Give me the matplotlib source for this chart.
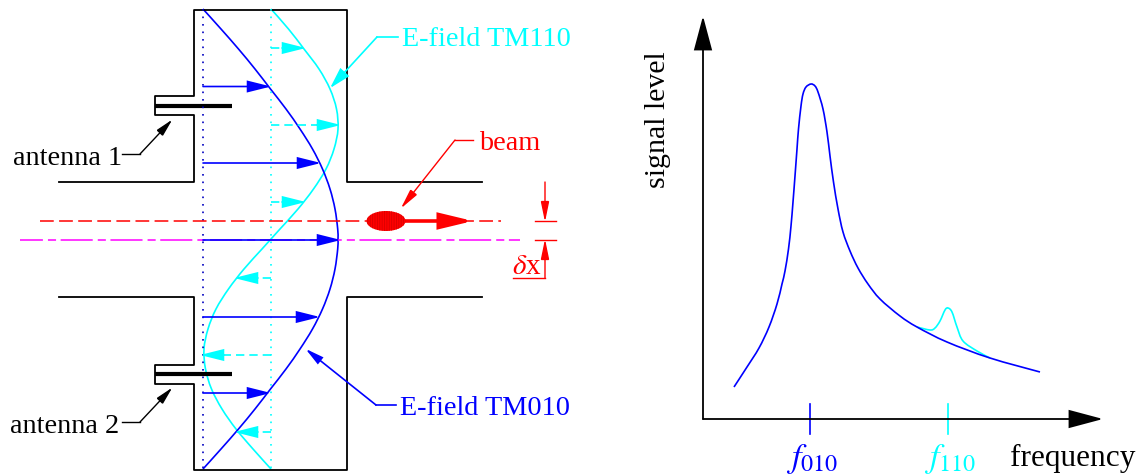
import math
import matplotlib
matplotlib.use("Agg")
import matplotlib.pyplot as plt
from matplotlib.patches import Ellipse, FancyArrowPatch, PathPatch
from matplotlib.path import Path

plt.rcParams['font.family'] = ['Liberation Serif', 'DejaVu Serif']
plt.rcParams['mathtext.fontset'] = 'stix'
plt.rcParams['hatch.linewidth'] = 0.6

BLUE = '#0000ff'
CYAN = '#00ffff'
RED = '#ff0000'
MAGENTA = '#ff00ff'

field_y = [10, 30, 50, 70, 90, 110, 130, 150, 170, 190, 210, 230, 240, 250, 270, 290,
           310, 330, 350, 370, 390, 410, 430, 450, 470]
tm010_x = [203, 221, 238.5, 255, 270.5, 286, 300, 312.5, 322.5, 330, 335, 337.7, 338, 337.7, 335, 330,
           322.5, 312.5, 300, 286, 270.5, 255, 238.5, 221, 203]
tm110_x = [271, 288.5, 304, 319, 330, 336.5, 338, 334, 326, 313.5, 298, 280, 271, 262, 244, 228.5,
           216, 208, 204, 205.5, 211.5, 222, 236, 253, 271]

# field arrows: (height, tip)
tm010_arrows = [(87.5, 268), (164, 318), (241, 338), (318, 317), (394, 268)]
tm110_arrows = [(49, 303), (126, 338), (203, 303), (279, 237), (356, 203), (433, 237)]

# spectrum
main_x = [734, 747, 759, 769, 777, 782, 785, 788.5, 791, 793, 795, 797, 798.5, 801, 803, 806,
          811, 815, 818, 823, 827, 830, 833.5, 838, 843, 850, 858, 868, 880, 900, 917, 947,
          990, 1040]
main_y = [388, 368, 349, 328, 305, 285, 272, 250, 227, 203, 177, 150, 130, 107, 95, 88,
          85, 87, 93, 110, 133, 157, 183, 210, 233, 252, 269, 285, 300, 317, 328, 343,
          359, 373]
bump_x = [917, 930, 935, 940, 945, 948, 952, 957, 963, 977, 990]
bump_y = [328, 331, 329, 322, 311, 309, 313, 328, 342, 352, 359]

# cavity outline
upper_x = [59, 194, 194, 155, 155, 194, 194, 347, 347, 482]
upper_y = [183, 183, 116, 116, 97, 97, 10.5, 10.5, 183, 183]
lower_x = [59, 194, 194, 155, 155, 194, 194, 347, 347, 482]
lower_y = [298, 298, 366, 366, 385, 385, 471, 471, 298, 298]


def smooth(xs, ys, color, lw=1.2):
    # catmull-rom through the read points, as bezier segments
    pts = list(zip(xs, ys))
    verts = [pts[0]]
    codes = [Path.MOVETO]
    for i in range(len(pts) - 1):
        p0 = pts[max(i - 1, 0)]
        p1 = pts[i]
        p2 = pts[i + 1]
        p3 = pts[min(i + 2, len(pts) - 1)]
        c1 = (p1[0] + (p2[0] - p0[0]) / 6, p1[1] + (p2[1] - p0[1]) / 6)
        c2 = (p2[0] - (p3[0] - p1[0]) / 6, p2[1] - (p3[1] - p1[1]) / 6)
        verts += [c1, c2, p2]
        codes += [Path.CURVE4] * 3
    ax.add_patch(PathPatch(Path(verts, codes), fill=False, edgecolor=color, lw=lw))


def arrow(x0, y0, x1, y1, color, lw=1.2, hl=20, hw=5, extend=3):
    # head sizes are in pixels, same as the rest of the drawing
    # matplotlib pulls the tip back a bit so push it out again
    px = 72 / 100
    d = math.hypot(x1 - x0, y1 - y0)
    x1 = x1 + (x1 - x0) / d * extend
    y1 = y1 + (y1 - y0) / d * extend
    style = f"-|>,head_length={hl * px},head_width={hw * px}"
    ax.add_patch(FancyArrowPatch((x0, y0), (x1, y1), arrowstyle=style, color=color, lw=lw,
                                 shrinkA=0, shrinkB=0, mutation_scale=1,
                                 joinstyle='miter', zorder=4))


fig = plt.figure(figsize=(11.43, 4.77), dpi=100)
ax = fig.add_axes([0, 0, 1, 1])
ax.set_xlim(0, 1143)
ax.set_ylim(477, 0)
ax.axis('off')

# cavity
ax.plot(upper_x, upper_y, color='black', lw=1.3)
ax.plot(lower_x, lower_y, color='black', lw=1.3)
ax.plot([155, 232], [106.5, 106.5], color='black', lw=3, solid_capstyle='butt')
ax.plot([155, 232], [375, 375], color='black', lw=3, solid_capstyle='butt')

# axes lines of the fields
ax.plot([203, 203], [10, 470], color='#0000c0', lw=1.2, ls=(0, (1, 3.5)))
ax.plot([271, 271], [10, 470], color=CYAN, lw=1.2, ls=(0, (1, 3.5)))

# beam lines
ax.plot([40, 501], [221.5, 221.5], color=RED, lw=1.1, ls=(0, (9, 3.5)))
ax.plot([20, 520], [241, 241], color=MAGENTA, lw=1.1, ls=(6, (21, 3.3, 5.3, 3)))

# fields
smooth(tm110_x, field_y, CYAN)
smooth(tm010_x, field_y, BLUE)
for y, tip in tm010_arrows:
    arrow(203, y, tip, y, BLUE)
for y, tip in tm110_arrows:
    # dashed shaft, solid head
    side = 1 if tip > 271 else -1
    ax.plot([271, tip - side * 18], [y, y], color=CYAN, lw=1.2, ls=(0, (5, 3)))
    arrow(tip - side * 21, y, tip, y, CYAN)

# bunch
ax.add_patch(Ellipse((386, 222), 39, 20, facecolor=RED, edgecolor='#d80000', lw=0, hatch='|||||||', zorder=5))
arrow(405, 222, 470, 222, RED, lw=2.6, hl=27, hw=6.5)

# offset marker
ax.plot([535, 556], [222, 222], color=RED, lw=1.0)
ax.plot([535, 556], [241, 241], color=RED, lw=1.0)
arrow(545, 183, 545, 221, RED, lw=1.0, hl=17, hw=3.5, extend=2)
ax.plot([513, 545], [279, 279], color=RED, lw=1.0)
arrow(545, 279, 545, 242, RED, lw=1.0, hl=17, hw=3.5, extend=2)

# leaders
ax.plot([398, 377], [38, 38], color=CYAN, lw=1.2)
arrow(377, 38, 332, 87, CYAN, hl=18, hw=5)
ax.plot([473, 455], [141, 141], color=RED, lw=1.0)
arrow(455, 141, 402, 208, RED, lw=1.0, hl=17, hw=3.5, extend=2)
ax.plot([396, 376], [406, 406], color=BLUE, lw=1.2)
arrow(376, 406, 307, 351, BLUE, hl=15, hw=3.5, extend=2)
ax.plot([122, 140], [155, 155], color='black', lw=1.0)
arrow(140, 155, 171, 122, 'black', lw=1.0, hl=15, hw=3.5, extend=2)
ax.plot([122, 140], [423, 423], color='black', lw=1.0)
arrow(140, 423, 171, 390, 'black', lw=1.0, hl=15, hw=3.5, extend=2)

# spectrum
smooth(bump_x, bump_y, CYAN)
smooth(main_x, main_y, BLUE)
arrow(703, 420, 703, 20, 'black', lw=1.3, hl=30, hw=8)
arrow(703, 420, 1100, 420, 'black', lw=1.3, hl=30, hw=8)
ax.plot([810, 810], [405, 435], color=BLUE, lw=1.2)
ax.plot([948, 948], [405, 435], color=CYAN, lw=1.2)

# labels
fs = 20.3
ax.text(402, 39, 'E-field TM110', color=CYAN, fontsize=fs, va='center')
ax.text(400, 408.5, 'E-field TM010', color=BLUE, fontsize=fs, va='center')
ax.text(479, 144, 'beam', color=RED, fontsize=fs, va='center')
ax.text(13, 159, 'antenna 1', color='black', fontsize=fs, va='center')
ax.text(10, 427, 'antenna 2', color='black', fontsize=fs, va='center')
ax.text(512, 274, r'$\delta$x', color=RED, fontsize=21, va='baseline')
ax.text(658, 120, 'signal level', color='black', fontsize=21.5, rotation=90, ha='center', va='center')
ax.text(1010, 466, 'frequency', color='black', fontsize=22.5, va='baseline')
ax.text(812, 467, r'$f_{010}$', color=BLUE, fontsize=24.7, ha='center', va='baseline')
ax.text(950, 467, r'$f_{110}$', color=CYAN, fontsize=24.7, ha='center', va='baseline')

fig.savefig("out.png", dpi=100)
